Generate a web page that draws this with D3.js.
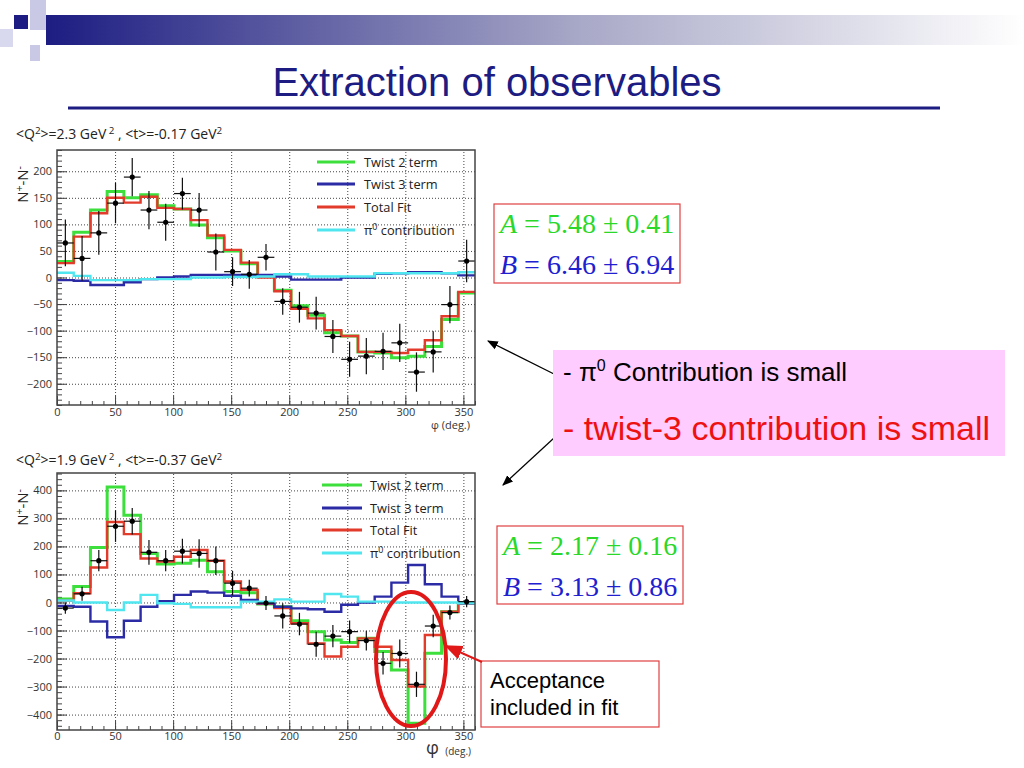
<!DOCTYPE html>
<html>
<head>
<meta charset="utf-8">
<script src="https://cdn.jsdelivr.net/npm/d3@7"></script>
<style>
body { margin: 0; background: #fff; }
</style>
</head>
<body>
<script>
// phi bins (25 bins, lower edges, degrees)
const phiLow = [0, 14.4, 28.8, 43.2, 57.6, 72, 86.4, 100.8, 115.2, 129.6, 144, 158.4, 172.8,
  187.2, 201.6, 216, 230.4, 244.8, 259.2, 273.6, 288, 302.4, 316.8, 331.2, 345.6];
const phiMax = 360;

// top panel: <Q2>=2.3, <t>=-0.17
const topData = [65, 36, 84, 140, 189, 127, 104, 158, 127, 48, 11, 6, 38, -45, -56, -67, -111, -154, -148, -139, -123, -178, -140, -51, 31];
const topErr = [44, 42, 41, 38, 36, 36, 35, 30, 32, 35, 27, 27, 25, 25, 29, 31, 31, 33, 34, 35, 36, 37, 39, 35, 40];
const topTwist2 = [30, 85, 127, 162, 150, 156, 135, 129, 99, 75, 50, 26, 2, -24, -53, -71, -104, -110, -140, -142, -151, -148, -130, -79, -29];
const topTotal = [27, 77, 121, 150, 141, 152, 131, 129, 108, 79, 52, 28, 0, -26, -59, -77, -99, -110, -140, -140, -142, -136, -118, -73, -27];
const topTwist3 = [-5, -6, -14, -14, -9, -3, 0, 2, 5, 5, 5, 5, 5, 2, -4, -4, -4, 0, 0, 7, 8, 10, 10, 8, 4];
const topPi0 = [9, 3, -5, -5, -5, -3, -3, -3, 0, 0, 1, 1, 2, 6, 6, 2, 2, 2, 2, 8, 8, 8, 8, 8, 10];

// bottom panel: <Q2>=1.9, <t>=-0.37
const botData = [-20, 31, 149, 272, 290, 179, 149, 183, 175, 149, 69, 51, -2, -48, -77, -149, -120, -104, -136, -217, -182, -292, -84, -36, 3];
const botErr = [20, 25, 38, 56, 47, 44, 38, 44, 51, 51, 44, 30, 25, 45, 40, 45, 40, 40, 35, 40, 50, 45, 40, 25, 20];
const botTwist2 = [12, 57, 196, 412, 311, 175, 137, 140, 151, 110, 39, 35, -5, -15, -65, -104, -134, -143, -128, -175, -241, -431, -181, -33, -3];
const botTotal = [7, 33, 125, 287, 244, 157, 146, 163, 187, 149, 75, 45, -5, -20, -74, -146, -193, -158, -128, -158, -205, -300, -116, -33, -5];
const botTwist3 = [-12, -15, -68, -124, -65, -15, 5, 27, 39, 35, 24, 9, -3, -15, -21, -24, -33, -8, 0, 21, 71, 134, 65, 21, -3];
const botPi0 = [7, 0, 0, -27, 0, 27, -3, -5, -17, -17, -17, 3, 3, 11, 3, 3, 30, 21, 3, 3, 0, 0, 0, 0, -3];

const xMajor = [0, 50, 100, 150, 200, 250, 300, 350];
const topYMajor = [-200, -150, -100, -50, 0, 50, 100, 150, 200];
const botYMajor = [-400, -300, -200, -100, 0, 100, 200, 300, 400];

const legendNames = ["Twist 2 term", "Twist 3 term", "Total Fit", "contribution"];
const colGreen = "#3ddf3d", colBlue = "#2b2ba6", colRed = "#e23b2b", colCyan = "#4fe6f0";
const plotFont = "Open Sans, sans-serif";

const svg = d3.select("body").append("svg").attr("width", 1024).attr("height", 768)
  .attr("font-family", "Liberation Sans, Arial, sans-serif");
const defs = svg.append("defs");

// header decoration
const grad = defs.append("linearGradient").attr("id", "hdr");
grad.append("stop").attr("offset", "0%").attr("stop-color", "#1c1c82");
grad.append("stop").attr("offset", "55%").attr("stop-color", "#a9a9c8");
grad.append("stop").attr("offset", "100%").attr("stop-color", "#ffffff");
svg.append("rect").attr("x", 46).attr("y", 15).attr("width", 978).attr("height", 30).attr("fill", "url(#hdr)");
svg.append("rect").attr("x", 30).attr("y", 0).attr("width", 16).attr("height", 30).attr("fill", "#c9c9e6");
svg.append("rect").attr("x", 0).attr("y", 29).attr("width", 13).attr("height", 18).attr("fill", "#d8d8ee");
svg.append("rect").attr("x", 30).attr("y", 45).attr("width", 10).attr("height", 16).attr("fill", "#c9c9e6");
svg.append("rect").attr("x", 14).attr("y", 15).attr("width", 14).attr("height", 14).attr("fill", "#1c1c82");

svg.append("text").attr("x", 497).attr("y", 96).attr("text-anchor", "middle")
  .attr("font-size", 40).attr("fill", "#1c1c82").text("Extraction of observables");
svg.append("line").attr("x1", 68).attr("x2", 940).attr("y1", 108).attr("y2", 108)
  .attr("stroke", "#1c1c82").attr("stroke-width", 3);

function supText(sel, parts) {
  // parts: [text, isSup]
  let up = false;
  parts.forEach(([t, s]) => {
    const ts = sel.append("tspan").text(t);
    if (s && !up) { ts.attr("dy", -5).attr("font-size", "0.7em"); up = true; }
    else if (!s && up) { ts.attr("dy", 5); up = false; }
    else if (s) ts.attr("font-size", "0.7em");
  });
}

function panel(p) {
  const x = d3.scaleLinear().domain([0, phiMax]).range([57, 475]);
  const y = d3.scaleLinear().domain(p.yDom).range([p.y1, p.y0]);
  const g = svg.append("g");
  const h = p.y1 - p.y0;

  g.append("clipPath").attr("id", p.id).append("rect")
    .attr("x", 57).attr("y", p.y0).attr("width", 418).attr("height", h);

  // grid
  g.append("g").attr("transform", `translate(0,${p.y1})`)
    .call(d3.axisBottom(x).tickValues(xMajor.slice(1)).tickSize(-h).tickFormat(""))
    .call(s => { s.select(".domain").remove(); s.selectAll("line").attr("stroke", "#777").attr("stroke-dasharray", "1,2"); });
  g.append("g").attr("transform", "translate(57,0)")
    .call(d3.axisLeft(y).tickValues(p.yMajor).tickSize(-418).tickFormat(""))
    .call(s => { s.select(".domain").remove(); s.selectAll("line").attr("stroke", "#777").attr("stroke-dasharray", "1,2"); });

  // ticks
  g.append("g").attr("transform", `translate(0,${p.y1})`)
    .call(d3.axisBottom(x).tickValues(d3.range(0, 361, 10)).tickSize(-4).tickFormat(""))
    .call(s => s.select(".domain").remove());
  g.append("g").attr("transform", `translate(0,${p.y1})`)
    .call(d3.axisBottom(x).tickValues(xMajor).tickSize(-9).tickPadding(p.xPad))
    .call(s => { s.select(".domain").remove(); s.attr("font-family", plotFont).attr("font-size", 11); s.selectAll("text").attr("fill", "#333"); });
  g.append("g").attr("transform", "translate(57,0)")
    .call(d3.axisLeft(y).tickValues(p.yMinor).tickSize(-5).tickFormat(""))
    .call(s => s.select(".domain").remove());
  g.append("g").attr("transform", "translate(57,0)")
    .call(d3.axisLeft(y).tickValues(p.yMajor).tickSize(-10).tickPadding(5))
    .call(s => { s.select(".domain").remove(); s.attr("font-family", plotFont).attr("font-size", 11); s.selectAll("text").attr("fill", "#333"); });
  g.selectAll(".tick line").attr("stroke", "#444");

  // histograms
  const line = d3.line().x(d => x(d[0])).y(d => y(d[1])).curve(d3.curveStepAfter);
  const steps = vals => phiLow.map((lo, i) => [lo, vals[i]]).concat([[phiMax, vals[vals.length - 1]]]);
  const hg = g.append("g").attr("clip-path", `url(#${p.id})`);
  [[p.twist2, colGreen, 3], [p.total, colRed, 2.4], [p.twist3, colBlue, 2.4], [p.pi0, colCyan, 2.4]]
    .forEach(([vals, c, w]) => hg.append("path").attr("d", line(steps(vals)))
      .attr("fill", "none").attr("stroke", c).attr("stroke-width", w));

  // data points
  const rows = phiLow.map((lo, i) => ({ lo, hi: i < phiLow.length - 1 ? phiLow[i + 1] : phiMax, v: p.data[i], e: p.err[i] }));
  const pg = hg.selectAll(".pt").data(rows).enter().append("g");
  pg.append("line").attr("x1", d => x(d.lo)).attr("x2", d => x(d.hi))
    .attr("y1", d => y(d.v)).attr("y2", d => y(d.v)).attr("stroke", "#111").attr("stroke-width", 1.2);
  pg.append("line").attr("x1", d => x((d.lo + d.hi) / 2)).attr("x2", d => x((d.lo + d.hi) / 2))
    .attr("y1", d => y(d.v - d.e)).attr("y2", d => y(d.v + d.e)).attr("stroke", "#111").attr("stroke-width", 1.2);
  pg.append("circle").attr("cx", d => x((d.lo + d.hi) / 2)).attr("cy", d => y(d.v)).attr("r", 2.6).attr("fill", "#000");

  // frame
  g.append("rect").attr("x", 57).attr("y", p.y0).attr("width", 418).attr("height", h)
    .attr("fill", "none").attr("stroke", "#444").attr("stroke-width", 1.5);

  // legend
  const cols = [colGreen, colBlue, colRed, colCyan];
  legendNames.forEach((n, i) => {
    const ly = p.legY[i];
    g.append("line").attr("x1", p.legX[0]).attr("x2", p.legX[1]).attr("y1", ly).attr("y2", ly)
      .attr("stroke", cols[i]).attr("stroke-width", 3);
    const t = g.append("text").attr("x", p.legX[2]).attr("y", ly + 4.5).attr("font-size", 12.8)
      .attr("fill", "#222").attr("font-family", plotFont);
    if (i === 3) supText(t, [["π", false], ["0", true], [" " + n, false]]);
    else t.text(n);
  });

  // titles
  const tt = g.append("text").attr("x", 16).attr("y", p.titleY).attr("font-size", 14).attr("fill", "#222").attr("font-family", plotFont);
  supText(tt, p.title);
  const yl = g.append("text").attr("transform", `translate(28,${p.y0 + 16}) rotate(-90)`).attr("text-anchor", "end")
    .attr("font-size", 15).attr("fill", "#222").attr("font-family", plotFont);
  supText(yl, [["N", false], ["+", true], ["-N", false], ["-", true]]);
}

panel({
  id: "clipTop", y0: 150, y1: 405, yDom: [-240, 240], yMajor: topYMajor, yMinor: d3.range(-240, 241, 10), xPad: 3,
  data: topData, err: topErr, twist2: topTwist2, total: topTotal, twist3: topTwist3, pi0: topPi0,
  legX: [317, 355, 364], legY: [162, 184, 207, 230], titleY: 139,
  title: [["<Q", false], ["2", true], [">=2.3 GeV", false], [" 2", true], [" , <t>=-0.17 GeV", false], ["2", true]]
});
panel({
  id: "clipBot", y0: 473, y1: 730, yDom: [-455, 462], yMajor: botYMajor, yMinor: d3.range(-440, 461, 20), xPad: 2,
  data: botData, err: botErr, twist2: botTwist2, total: botTotal, twist3: botTwist3, pi0: botPi0,
  legX: [322, 362, 370], legY: [485, 508, 530, 553], titleY: 465,
  title: [["<Q", false], ["2", true], [">=1.9 GeV", false], [" 2", true], [" , <t>=-0.37 GeV", false], ["2", true]]
});

// phi axis labels
svg.append("text").attr("x", 470).attr("y", 429).attr("text-anchor", "end").attr("font-size", 11)
  .attr("fill", "#333").attr("font-family", plotFont).text("φ (deg.)");
svg.append("text").attr("x", 439).attr("y", 754).attr("text-anchor", "end").attr("font-size", 18)
  .attr("fill", "#333").attr("font-family", plotFont).text("φ");
svg.append("text").attr("x", 471).attr("y", 755).attr("text-anchor", "end").attr("font-size", 10)
  .attr("fill", "#333").attr("font-family", plotFont).text("(deg.)");

// fit parameter boxes
function fitBox(bx, by, bw, bh, a, b) {
  svg.append("rect").attr("x", bx).attr("y", by).attr("width", bw).attr("height", bh)
    .attr("fill", "#fff").attr("stroke", "#e04040").attr("stroke-width", 1.2);
  [[a, "A", "#2ad82a", by + 29], [b, "B", "#2020d0", by + 70]].forEach(([v, n, c, ty]) => {
    const t = svg.append("text").attr("x", bx + 6).attr("y", ty).attr("font-size", 28)
      .attr("font-family", "Liberation Serif, Times New Roman, serif").attr("fill", c);
    t.append("tspan").attr("font-style", "italic").text(n);
    t.append("tspan").text(" = " + v);
  });
}
fitBox(494, 204, 186, 79, "5.48 ± 0.41", "6.46 ± 6.94");
fitBox(497, 526, 186, 78, "2.17 ± 0.16", "3.13 ± 0.86");

// arrows
const mk = (id, c) => defs.append("marker").attr("id", id).attr("viewBox", "0 0 10 10").attr("refX", 9).attr("refY", 5)
  .attr("markerWidth", 9).attr("markerHeight", 9).attr("orient", "auto")
  .append("path").attr("d", "M0,1 L10,5 L0,9 Z").attr("fill", c);
mk("arrK", "#000");
mk("arrR", "#e01818");
svg.append("line").attr("x1", 554).attr("y1", 374).attr("x2", 488).attr("y2", 341)
  .attr("stroke", "#000").attr("stroke-width", 1.2).attr("marker-end", "url(#arrK)");
svg.append("line").attr("x1", 554).attr("y1", 438).attr("x2", 503).attr("y2", 485)
  .attr("stroke", "#000").attr("stroke-width", 1.2).attr("marker-end", "url(#arrK)");

// pink note
svg.append("rect").attr("x", 553).attr("y", 350).attr("width", 452).attr("height", 106).attr("fill", "#ffccff");
const n1 = svg.append("text").attr("x", 563).attr("y", 381).attr("font-size", 26).attr("fill", "#000");
n1.append("tspan").text("- π");
n1.append("tspan").attr("dy", -10).attr("font-size", 16).text("0");
n1.append("tspan").attr("dy", 10).text(" Contribution is small");
svg.append("text").attr("x", 563).attr("y", 440).attr("font-size", 34).attr("fill", "#ee1111")
  .text("- twist-3 contribution is small");

// acceptance note
svg.append("ellipse").attr("cx", 411).attr("cy", 659).attr("rx", 35).attr("ry", 67)
  .attr("fill", "none").attr("stroke", "#e01818").attr("stroke-width", 4);
svg.append("rect").attr("x", 481).attr("y", 661).attr("width", 178).attr("height", 66)
  .attr("fill", "#fff").attr("stroke", "#e04040").attr("stroke-width", 1.2);
svg.append("line").attr("x1", 482).attr("y1", 662).attr("x2", 446).attr("y2", 646)
  .attr("stroke", "#e01818").attr("stroke-width", 2).attr("marker-end", "url(#arrR)");
svg.append("text").attr("x", 490).attr("y", 688).attr("font-size", 22).attr("fill", "#000").text("Acceptance");
svg.append("text").attr("x", 490).attr("y", 715).attr("font-size", 22).attr("fill", "#000").text("included in fit");
</script>
</body>
</html>
